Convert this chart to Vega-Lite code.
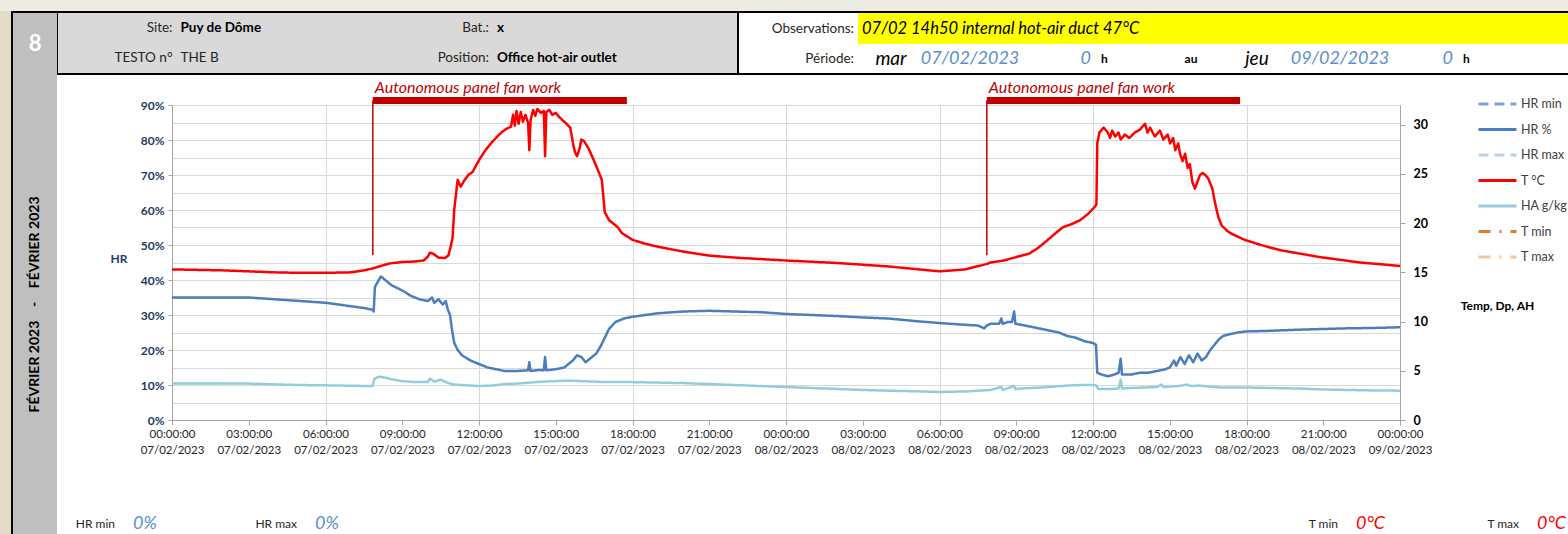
{
"$schema":"https://vega.github.io/schema/vega-lite/v6.json",
"padding":0,"background":"white","spacing":0,"bounds":"full",
"config":{"font":"Lato","view":{"stroke":null},"concat":{"spacing":0},"text":{"font":"Lato"}},
"datasets":{
"fan":[{"start":7.85,"end":17.78,"label":"Autonomous panel fan work"},{"start":31.85,"end":41.75,"label":"Autonomous panel fan work"}],
"series":[
{"h":0,"s":"T °C","v":15.3},{"h":1,"s":"T °C","v":15.25},{"h":2,"s":"T °C","v":15.2},{"h":3,"s":"T °C","v":15.1},{"h":4,"s":"T °C","v":15.0},{"h":5,"s":"T °C","v":14.95},{"h":6,"s":"T °C","v":14.95},{"h":7,"s":"T °C","v":15.0},{"h":7.5,"s":"T °C","v":15.2},{"h":7.85,"s":"T °C","v":15.4},{"h":8.167,"s":"T °C","v":15.65},{"h":8.5,"s":"T °C","v":15.9},{"h":9,"s":"T °C","v":16.05},{"h":9.5,"s":"T °C","v":16.1},{"h":9.833,"s":"T °C","v":16.2},{"h":10,"s":"T °C","v":16.6},{"h":10.083,"s":"T °C","v":17.0},{"h":10.2,"s":"T °C","v":16.9},{"h":10.417,"s":"T °C","v":16.5},{"h":10.667,"s":"T °C","v":16.45},{"h":10.8,"s":"T °C","v":16.7},{"h":10.883,"s":"T °C","v":17.5},{"h":10.967,"s":"T °C","v":18.5},{"h":11.033,"s":"T °C","v":21.4},{"h":11.167,"s":"T °C","v":24.4},{"h":11.283,"s":"T °C","v":23.7},{"h":11.417,"s":"T °C","v":24.3},{"h":11.583,"s":"T °C","v":24.9},{"h":11.75,"s":"T °C","v":25.2},{"h":12,"s":"T °C","v":26.4},{"h":12.25,"s":"T °C","v":27.4},{"h":12.5,"s":"T °C","v":28.2},{"h":12.75,"s":"T °C","v":28.9},{"h":12.917,"s":"T °C","v":29.3},{"h":13.083,"s":"T °C","v":29.6},{"h":13.25,"s":"T °C","v":29.8},{"h":13.333,"s":"T °C","v":31.0},{"h":13.4,"s":"T °C","v":29.9},{"h":13.467,"s":"T °C","v":31.4},{"h":13.55,"s":"T °C","v":30.1},{"h":13.633,"s":"T °C","v":31.3},{"h":13.717,"s":"T °C","v":30.3},{"h":13.817,"s":"T °C","v":31.0},{"h":13.917,"s":"T °C","v":30.2},{"h":13.967,"s":"T °C","v":27.4},{"h":14.017,"s":"T °C","v":30.5},{"h":14.117,"s":"T °C","v":31.5},{"h":14.2,"s":"T °C","v":30.9},{"h":14.283,"s":"T °C","v":31.6},{"h":14.417,"s":"T °C","v":31.2},{"h":14.533,"s":"T °C","v":31.4},{"h":14.583,"s":"T °C","v":26.8},{"h":14.633,"s":"T °C","v":31.3},{"h":14.75,"s":"T °C","v":31.5},{"h":14.867,"s":"T °C","v":31.0},{"h":15,"s":"T °C","v":31.2},{"h":15.133,"s":"T °C","v":30.8},{"h":15.25,"s":"T °C","v":30.5},{"h":15.417,"s":"T °C","v":30.1},{"h":15.567,"s":"T °C","v":29.7},{"h":15.667,"s":"T °C","v":28.2},{"h":15.75,"s":"T °C","v":27.2},{"h":15.833,"s":"T °C","v":26.8},{"h":15.933,"s":"T °C","v":27.6},{"h":16,"s":"T °C","v":28.5},{"h":16.117,"s":"T °C","v":28.3},{"h":16.3,"s":"T °C","v":27.5},{"h":16.5,"s":"T °C","v":26.3},{"h":16.6,"s":"T °C","v":25.7},{"h":16.8,"s":"T °C","v":24.4},{"h":16.917,"s":"T °C","v":21.1},{"h":17.083,"s":"T °C","v":20.3},{"h":17.417,"s":"T °C","v":19.6},{"h":17.583,"s":"T °C","v":19.0},{"h":18,"s":"T °C","v":18.3},{"h":18.5,"s":"T °C","v":17.9},{"h":19,"s":"T °C","v":17.6},{"h":20,"s":"T °C","v":17.1},{"h":21,"s":"T °C","v":16.7},{"h":22,"s":"T °C","v":16.5},{"h":23,"s":"T °C","v":16.35},
{"h":24,"s":"T °C","v":16.2},{"h":26,"s":"T °C","v":15.95},{"h":28,"s":"T °C","v":15.6},{"h":30,"s":"T °C","v":15.1},{"h":31,"s":"T °C","v":15.3},{"h":31.85,"s":"T °C","v":15.85},{"h":32,"s":"T °C","v":16.0},{"h":32.5,"s":"T °C","v":16.2},{"h":33,"s":"T °C","v":16.55},{"h":33.5,"s":"T °C","v":16.9},{"h":33.833,"s":"T °C","v":17.45},{"h":34.167,"s":"T °C","v":18.15},{"h":34.5,"s":"T °C","v":18.9},{"h":34.833,"s":"T °C","v":19.6},{"h":35.167,"s":"T °C","v":19.9},{"h":35.5,"s":"T °C","v":20.3},{"h":35.833,"s":"T °C","v":21.0},{"h":36.083,"s":"T °C","v":21.7},{"h":36.133,"s":"T °C","v":21.9},{"h":36.167,"s":"T °C","v":28.1},{"h":36.25,"s":"T °C","v":29.2},{"h":36.417,"s":"T °C","v":29.7},{"h":36.583,"s":"T °C","v":29.2},{"h":36.667,"s":"T °C","v":28.65},{"h":36.75,"s":"T °C","v":29.4},{"h":36.867,"s":"T °C","v":28.8},{"h":37,"s":"T °C","v":29.2},{"h":37.083,"s":"T °C","v":28.5},{"h":37.25,"s":"T °C","v":29.0},{"h":37.417,"s":"T °C","v":28.65},{"h":37.633,"s":"T °C","v":29.2},{"h":37.833,"s":"T °C","v":29.5},{"h":38.033,"s":"T °C","v":30.1},{"h":38.133,"s":"T °C","v":29.2},{"h":38.233,"s":"T °C","v":29.7},{"h":38.417,"s":"T °C","v":28.8},{"h":38.617,"s":"T °C","v":29.4},{"h":38.75,"s":"T °C","v":28.5},{"h":38.917,"s":"T °C","v":29.0},{"h":39.017,"s":"T °C","v":28.1},{"h":39.133,"s":"T °C","v":28.65},{"h":39.217,"s":"T °C","v":27.4},{"h":39.333,"s":"T °C","v":28.1},{"h":39.4,"s":"T °C","v":27.05},{"h":39.5,"s":"T °C","v":26.3},{"h":39.6,"s":"T °C","v":27.05},{"h":39.7,"s":"T °C","v":25.6},{"h":39.783,"s":"T °C","v":26.0},{"h":39.883,"s":"T °C","v":24.2},{"h":39.983,"s":"T °C","v":23.5},{"h":40.083,"s":"T °C","v":24.2},{"h":40.183,"s":"T °C","v":24.9},{"h":40.283,"s":"T °C","v":25.1},{"h":40.383,"s":"T °C","v":24.9},{"h":40.5,"s":"T °C","v":24.56},{"h":40.667,"s":"T °C","v":23.5},{"h":40.767,"s":"T °C","v":22.1},{"h":40.9,"s":"T °C","v":20.6},{"h":41.033,"s":"T °C","v":19.75},{"h":41.25,"s":"T °C","v":19.2},{"h":41.433,"s":"T °C","v":18.9},{"h":41.933,"s":"T °C","v":18.3},{"h":42.533,"s":"T °C","v":17.8},{"h":43.317,"s":"T °C","v":17.25},{"h":44.867,"s":"T °C","v":16.55},{"h":46.433,"s":"T °C","v":16.0},{"h":48,"s":"T °C","v":15.65},
{"h":0,"s":"HR %","v":0.35},{"h":1.5,"s":"HR %","v":0.35},{"h":3,"s":"HR %","v":0.35},{"h":4,"s":"HR %","v":0.345},{"h":5,"s":"HR %","v":0.34},{"h":6,"s":"HR %","v":0.335},{"h":6.5,"s":"HR %","v":0.33},{"h":7,"s":"HR %","v":0.325},{"h":7.5,"s":"HR %","v":0.32},{"h":7.833,"s":"HR %","v":0.315},{"h":7.883,"s":"HR %","v":0.31},{"h":7.933,"s":"HR %","v":0.38},{"h":8.083,"s":"HR %","v":0.4},{"h":8.167,"s":"HR %","v":0.41},{"h":8.333,"s":"HR %","v":0.4},{"h":8.583,"s":"HR %","v":0.385},{"h":9,"s":"HR %","v":0.37},{"h":9.333,"s":"HR %","v":0.355},{"h":9.667,"s":"HR %","v":0.345},{"h":10,"s":"HR %","v":0.34},{"h":10.167,"s":"HR %","v":0.35},{"h":10.25,"s":"HR %","v":0.335},{"h":10.417,"s":"HR %","v":0.345},{"h":10.583,"s":"HR %","v":0.33},{"h":10.7,"s":"HR %","v":0.34},{"h":10.783,"s":"HR %","v":0.315},{"h":10.867,"s":"HR %","v":0.3},{"h":10.95,"s":"HR %","v":0.255},{"h":11.033,"s":"HR %","v":0.22},{"h":11.167,"s":"HR %","v":0.2},{"h":11.333,"s":"HR %","v":0.185},{"h":11.667,"s":"HR %","v":0.17},{"h":12,"s":"HR %","v":0.16},{"h":12.333,"s":"HR %","v":0.15},{"h":12.667,"s":"HR %","v":0.145},{"h":13,"s":"HR %","v":0.14},{"h":13.5,"s":"HR %","v":0.14},{"h":13.917,"s":"HR %","v":0.142},{"h":13.967,"s":"HR %","v":0.165},{"h":14.017,"s":"HR %","v":0.14},{"h":14.333,"s":"HR %","v":0.143},{"h":14.533,"s":"HR %","v":0.142},{"h":14.583,"s":"HR %","v":0.18},{"h":14.633,"s":"HR %","v":0.142},{"h":15,"s":"HR %","v":0.145},{"h":15.333,"s":"HR %","v":0.15},{"h":15.667,"s":"HR %","v":0.17},{"h":15.833,"s":"HR %","v":0.185},{"h":16,"s":"HR %","v":0.18},{"h":16.167,"s":"HR %","v":0.165},{"h":16.333,"s":"HR %","v":0.175},{"h":16.583,"s":"HR %","v":0.19},{"h":16.75,"s":"HR %","v":0.21},{"h":16.917,"s":"HR %","v":0.235},{"h":17.083,"s":"HR %","v":0.26},{"h":17.333,"s":"HR %","v":0.28},{"h":17.667,"s":"HR %","v":0.29},{"h":18,"s":"HR %","v":0.295},{"h":18.5,"s":"HR %","v":0.3},{"h":19,"s":"HR %","v":0.305},{"h":20,"s":"HR %","v":0.31},{"h":21,"s":"HR %","v":0.312},{"h":22,"s":"HR %","v":0.31},{"h":23,"s":"HR %","v":0.308},
{"h":24,"s":"HR %","v":0.303},{"h":25,"s":"HR %","v":0.3},{"h":26,"s":"HR %","v":0.297},{"h":27,"s":"HR %","v":0.293},{"h":28,"s":"HR %","v":0.29},{"h":29,"s":"HR %","v":0.283},{"h":30,"s":"HR %","v":0.277},{"h":31,"s":"HR %","v":0.272},{"h":31.5,"s":"HR %","v":0.27},{"h":31.75,"s":"HR %","v":0.262},{"h":31.85,"s":"HR %","v":0.27},{"h":32,"s":"HR %","v":0.275},{"h":32.333,"s":"HR %","v":0.275},{"h":32.417,"s":"HR %","v":0.29},{"h":32.467,"s":"HR %","v":0.275},{"h":32.667,"s":"HR %","v":0.28},{"h":32.833,"s":"HR %","v":0.28},{"h":32.917,"s":"HR %","v":0.31},{"h":32.967,"s":"HR %","v":0.275},{"h":33.333,"s":"HR %","v":0.27},{"h":33.667,"s":"HR %","v":0.265},{"h":34,"s":"HR %","v":0.26},{"h":34.333,"s":"HR %","v":0.255},{"h":34.667,"s":"HR %","v":0.25},{"h":35,"s":"HR %","v":0.24},{"h":35.333,"s":"HR %","v":0.235},{"h":35.667,"s":"HR %","v":0.225},{"h":36,"s":"HR %","v":0.22},{"h":36.117,"s":"HR %","v":0.215},{"h":36.167,"s":"HR %","v":0.135},{"h":36.333,"s":"HR %","v":0.13},{"h":36.583,"s":"HR %","v":0.125},{"h":36.833,"s":"HR %","v":0.13},{"h":37,"s":"HR %","v":0.135},{"h":37.083,"s":"HR %","v":0.175},{"h":37.133,"s":"HR %","v":0.13},{"h":37.5,"s":"HR %","v":0.13},{"h":37.833,"s":"HR %","v":0.135},{"h":38.167,"s":"HR %","v":0.135},{"h":38.5,"s":"HR %","v":0.14},{"h":38.833,"s":"HR %","v":0.145},{"h":39,"s":"HR %","v":0.15},{"h":39.167,"s":"HR %","v":0.17},{"h":39.25,"s":"HR %","v":0.155},{"h":39.417,"s":"HR %","v":0.18},{"h":39.583,"s":"HR %","v":0.16},{"h":39.75,"s":"HR %","v":0.185},{"h":39.917,"s":"HR %","v":0.165},{"h":40.083,"s":"HR %","v":0.19},{"h":40.25,"s":"HR %","v":0.17},{"h":40.417,"s":"HR %","v":0.18},{"h":40.583,"s":"HR %","v":0.2},{"h":40.75,"s":"HR %","v":0.215},{"h":40.917,"s":"HR %","v":0.23},{"h":41.083,"s":"HR %","v":0.24},{"h":41.333,"s":"HR %","v":0.245},{"h":41.667,"s":"HR %","v":0.25},{"h":42,"s":"HR %","v":0.253},{"h":43,"s":"HR %","v":0.255},{"h":44,"s":"HR %","v":0.258},{"h":45,"s":"HR %","v":0.26},{"h":46,"s":"HR %","v":0.262},{"h":47,"s":"HR %","v":0.263},{"h":48,"s":"HR %","v":0.265},
{"h":0,"s":"HA g/kg","v":3.72},{"h":2,"s":"HA g/kg","v":3.72},{"h":3,"s":"HA g/kg","v":3.7},{"h":4,"s":"HA g/kg","v":3.62},{"h":5,"s":"HA g/kg","v":3.55},{"h":6,"s":"HA g/kg","v":3.52},{"h":7,"s":"HA g/kg","v":3.48},{"h":7.833,"s":"HA g/kg","v":3.45},{"h":7.917,"s":"HA g/kg","v":4.2},{"h":8.083,"s":"HA g/kg","v":4.4},{"h":8.333,"s":"HA g/kg","v":4.3},{"h":8.667,"s":"HA g/kg","v":4.1},{"h":9,"s":"HA g/kg","v":3.95},{"h":9.5,"s":"HA g/kg","v":3.85},{"h":10,"s":"HA g/kg","v":3.85},{"h":10.083,"s":"HA g/kg","v":4.2},{"h":10.25,"s":"HA g/kg","v":3.9},{"h":10.5,"s":"HA g/kg","v":4.1},{"h":10.75,"s":"HA g/kg","v":3.8},{"h":11,"s":"HA g/kg","v":3.6},{"h":11.333,"s":"HA g/kg","v":3.55},{"h":11.667,"s":"HA g/kg","v":3.5},{"h":12,"s":"HA g/kg","v":3.45},{"h":12.5,"s":"HA g/kg","v":3.5},{"h":13,"s":"HA g/kg","v":3.65},{"h":13.5,"s":"HA g/kg","v":3.7},{"h":14,"s":"HA g/kg","v":3.8},{"h":14.5,"s":"HA g/kg","v":3.9},{"h":15,"s":"HA g/kg","v":3.95},{"h":15.5,"s":"HA g/kg","v":4.0},{"h":16,"s":"HA g/kg","v":3.95},{"h":16.5,"s":"HA g/kg","v":3.9},{"h":17,"s":"HA g/kg","v":3.85},{"h":18,"s":"HA g/kg","v":3.85},{"h":19,"s":"HA g/kg","v":3.8},{"h":20,"s":"HA g/kg","v":3.75},{"h":21,"s":"HA g/kg","v":3.65},{"h":22,"s":"HA g/kg","v":3.55},{"h":23,"s":"HA g/kg","v":3.45},
{"h":24,"s":"HA g/kg","v":3.35},{"h":25,"s":"HA g/kg","v":3.25},{"h":26,"s":"HA g/kg","v":3.15},{"h":27,"s":"HA g/kg","v":3.05},{"h":28,"s":"HA g/kg","v":2.98},{"h":29,"s":"HA g/kg","v":2.92},{"h":30,"s":"HA g/kg","v":2.85},{"h":31,"s":"HA g/kg","v":2.9},{"h":32,"s":"HA g/kg","v":3.05},{"h":32.417,"s":"HA g/kg","v":3.35},{"h":32.467,"s":"HA g/kg","v":3.05},{"h":32.917,"s":"HA g/kg","v":3.45},{"h":32.967,"s":"HA g/kg","v":3.15},{"h":33.5,"s":"HA g/kg","v":3.25},{"h":34,"s":"HA g/kg","v":3.3},{"h":34.5,"s":"HA g/kg","v":3.4},{"h":35,"s":"HA g/kg","v":3.5},{"h":35.5,"s":"HA g/kg","v":3.55},{"h":36,"s":"HA g/kg","v":3.55},{"h":36.133,"s":"HA g/kg","v":3.5},{"h":36.2,"s":"HA g/kg","v":3.15},{"h":36.667,"s":"HA g/kg","v":3.15},{"h":37,"s":"HA g/kg","v":3.2},{"h":37.083,"s":"HA g/kg","v":4.1},{"h":37.133,"s":"HA g/kg","v":3.2},{"h":37.5,"s":"HA g/kg","v":3.25},{"h":38,"s":"HA g/kg","v":3.3},{"h":38.5,"s":"HA g/kg","v":3.35},{"h":38.667,"s":"HA g/kg","v":3.6},{"h":38.75,"s":"HA g/kg","v":3.35},{"h":39.333,"s":"HA g/kg","v":3.45},{"h":39.667,"s":"HA g/kg","v":3.6},{"h":39.833,"s":"HA g/kg","v":3.45},{"h":40.167,"s":"HA g/kg","v":3.5},{"h":40.5,"s":"HA g/kg","v":3.4},{"h":41,"s":"HA g/kg","v":3.3},{"h":42,"s":"HA g/kg","v":3.3},{"h":43,"s":"HA g/kg","v":3.25},{"h":44,"s":"HA g/kg","v":3.2},{"h":45,"s":"HA g/kg","v":3.1},{"h":46,"s":"HA g/kg","v":3.05},{"h":47,"s":"HA g/kg","v":3.0},{"h":48,"s":"HA g/kg","v":2.98}
]},
"vconcat":[
 {"width":1568,"height":11,"view":{"fill":"#EEEBE2"},"data":{"values":[]},"mark":"text","encoding":{}},
 {"hconcat":[
  {"width":11,"height":523,"view":{"fill":"#E1DBC8"},"data":{"values":[]},"mark":"text","encoding":{}},
  {"vconcat":[
   {"width":1557,"height":2,"view":{"fill":"black"},"data":{"values":[]},"mark":"text","encoding":{}},
   {"hconcat":[
    {"width":2,"height":521,"view":{"fill":"black"},"data":{"values":[]},"mark":"text","encoding":{}},
    {"vconcat":[
     {"width":44,"height":62,"view":{"fill":"#BFBFBF"},"data":{"values":[{"n":"8"}]},"mark":{"type":"text","fontSize":22,"fontWeight":"bold","color":"white"},"encoding":{"text":{"field":"n"}}},
     {"width":44,"height":459,"view":{"fill":"#BFBFBF"},"data":{"values":[{"m":"FÉVRIER 2023\u00a0\u00a0\u00a0\u00a0-\u00a0\u00a0\u00a0\u00a0FÉVRIER 2023"}]},"mark":{"type":"text","angle":270,"fontSize":14,"fontWeight":"bold","color":"black"},"encoding":{"text":{"field":"m"}}}
    ],"spacing":0,"bounds":"flush"},
    {"vconcat":[
     {"hconcat":[
      {"width":1,"height":60,"view":{"fill":"black"},"data":{"values":[]},"mark":"text","encoding":{}},
      {"width":237,"height":60,"view":{"fill":"#D9D9D9"},
       "data":{"values":[{"r":1,"label":"Site:","value":"Puy de Dôme"},{"r":2,"label":"TESTO n°","value":"THE B"}]},
       "encoding":{"y":{"field":"r","type":"ordinal","axis":null,"scale":{"type":"point","padding":0.5}}},
       "layer":[
        {"mark":{"type":"text","align":"right","dx":-4,"fontSize":13.5,"color":"#262626"},"encoding":{"text":{"field":"label"}}},
        {"transform":[{"filter":"datum.r == 1"}],"mark":{"type":"text","align":"left","dx":4,"fontSize":13.5,"fontWeight":"bold","color":"black"},"encoding":{"text":{"field":"value"}}},
        {"transform":[{"filter":"datum.r == 2"}],"mark":{"type":"text","align":"left","dx":4,"fontSize":13.5,"color":"#262626"},"encoding":{"text":{"field":"value"}}}
       ]},
      {"width":396,"height":60,"view":{"fill":"#D9D9D9"},
       "data":{"values":[{"r":1,"label":"Bat.:","value":"x"},{"r":2,"label":"Position:","value":"Office hot-air outlet"}]},
       "encoding":{"y":{"field":"r","type":"ordinal","axis":null,"scale":{"type":"point","padding":0.5}}},
       "layer":[
        {"mark":{"type":"text","align":"right","dx":-4,"fontSize":13.5,"color":"#262626"},"encoding":{"text":{"field":"label"}}},
        {"mark":{"type":"text","align":"left","dx":4,"fontSize":13.5,"fontWeight":"bold","color":"black"},"encoding":{"text":{"field":"value"}}}
       ]},
      {"width":46,"height":60,"view":{"fill":"#D9D9D9"},"data":{"values":[]},"mark":"text","encoding":{}},
      {"width":2,"height":60,"view":{"fill":"black"},"data":{"values":[]},"mark":"text","encoding":{}},
      {"vconcat":[
       {"hconcat":[
        {"width":119,"height":31,"data":{"values":[{"a":"Observations:"}]},"mark":{"type":"text","x":"width","align":"right","dx":-4,"fontSize":13.5,"color":"#262626"},"encoding":{"text":{"field":"a"}}},
        {"width":710,"height":31,"view":{"fill":"#FFFF00"},"data":{"values":[{"a":"07/02 14h50 internal hot-air duct 47°C"}]},"mark":{"type":"text","align":"left","dx":4,"fontSize":16.5,"fontStyle":"italic","color":"black"},"encoding":{"text":{"field":"a"},"x":{"datum":"obs","type":"nominal","axis":null,"scale":{"type":"point","padding":0,"align":0}}}}
       ],"spacing":0,"bounds":"flush"},
       {"hconcat":[
        {"width":119,"height":29,"data":{"values":[{"a":"Période:"}]},"mark":{"type":"text","x":"width","align":"right","dx":-4,"fontSize":13.5,"color":"#262626"},"encoding":{"text":{"field":"a"}}},
        {"width":66,"height":29,"data":{"values":[{"a":"mar"}]},"mark":{"type":"text","fontSize":19,"fontStyle":"italic","color":"black"},"encoding":{"text":{"field":"a"}}},
        {"width":92,"height":29,"data":{"values":[{"a":"07/02/2023"}]},"mark":{"type":"text","fontSize":18,"fontStyle":"italic","color":"#5B8ED0"},"encoding":{"text":{"field":"a"}}},
        {"width":160,"height":29,"data":{"values":[{"a":"0","b":"h"}]},"layer":[
          {"mark":{"type":"text","align":"right","dx":-5,"fontSize":18,"fontStyle":"italic","color":"#5B8ED0"},"encoding":{"text":{"field":"a"}}},
          {"mark":{"type":"text","align":"left","dx":5,"fontSize":12,"fontWeight":"bold","color":"black"},"encoding":{"text":{"field":"b"}}}]},
        {"width":30,"height":29,"data":{"values":[{"a":"au"}]},"mark":{"type":"text","fontSize":12,"fontWeight":"bold","color":"black"},"encoding":{"text":{"field":"a"}}},
        {"width":102,"height":29,"data":{"values":[{"a":"jeu"}]},"mark":{"type":"text","fontSize":19,"fontStyle":"italic","color":"black"},"encoding":{"text":{"field":"a"}}},
        {"width":64,"height":29,"data":{"values":[{"a":"09/02/2023"}]},"mark":{"type":"text","fontSize":18,"fontStyle":"italic","color":"#5B8ED0"},"encoding":{"text":{"field":"a"}}},
        {"width":172,"height":29,"data":{"values":[{"a":"0","b":"h"}]},"layer":[
          {"mark":{"type":"text","align":"right","dx":-5,"fontSize":18,"fontStyle":"italic","color":"#5B8ED0"},"encoding":{"text":{"field":"a"}}},
          {"mark":{"type":"text","align":"left","dx":5,"fontSize":12,"fontWeight":"bold","color":"black"},"encoding":{"text":{"field":"b"}}}]},
        {"width":24,"height":29,"data":{"values":[]},"mark":"text","encoding":{}}
       ],"spacing":0,"bounds":"flush"}
      ],"spacing":0,"bounds":"full"}
     ],"spacing":0,"bounds":"full"},
     {"width":1511,"height":2,"view":{"fill":"black"},"data":{"values":[]},"mark":"text","encoding":{}},
     {"hconcat":[
      {"width":53,"height":439,"data":{"values":[]},"mark":"text","encoding":{}},
      {"vconcat":[
       {"width":1228,"height":30,"data":{"values":[]},"mark":"text","encoding":{}},
       {"width":1228,"height":315,
        "layer":[
         {"layer":[
           {"data":{"name":"series"},"transform":[{"filter":"datum.s == 'HR %'"}],
            "mark":{"type":"line","strokeWidth":2.5,"strokeJoin":"round"},
            "encoding":{
             "x":{"field":"h","type":"quantitative","title":null,"scale":{"domain":[0,48],"nice":false,"zero":false},
                  "axis":{"values":[0,3,6,9,12,15,18,21,24,27,30,33,36,39,42,45,48],"tickCount":40,"labelExpr":"[(datum.value % 24 < 10 ? '0' : '') + (datum.value % 24) + ':00:00', '0' + (7 + floor(datum.value / 24)) + '/02/2023']","labelFontSize":11.5,"labelColor":"#262626","labelPadding":3,"labelLineHeight":16,"labelFlush":false,"labelOverlap":false,"tickSize":5,"tickColor":"#A6A6A6","domainColor":"#A6A6A6","grid":true,"gridColor":"#D9D9D9","gridOpacity":{"condition":{"test":"datum.value % 6 != 0","value":0},"value":1}}},
             "y":{"field":"v","type":"quantitative","title":"HR","scale":{"domain":[0,0.9]},
                  "axis":{"orient":"left","values":[0,0.05,0.1,0.15,0.2,0.25,0.3,0.35,0.4,0.45,0.5,0.55,0.6,0.65,0.7,0.75,0.8,0.85,0.9],"tickCount":40,"labelExpr":"round(datum.value*100) % 10 == 0 ? format(datum.value, '.0%') : ''","labelColor":"#1F3864","labelFontWeight":"bold","labelFontSize":12,"labelPadding":4,"labelOverlap":false,"tickSize":4,"tickColor":"#A6A6A6","tickOpacity":{"condition":{"test":"round(datum.value*100) % 10 != 0","value":0},"value":1},"domainColor":"#A6A6A6","grid":true,"gridColor":"#D9D9D9","titleAngle":0,"titleX":-62,"titleY":153,"titleAlign":"left","titleBaseline":"middle","titleColor":"#1F3864","titleFontSize":12,"titleFontWeight":"bold"}},
             "color":{"field":"s","type":"nominal","title":null,
                  "scale":{"domain":["HR min","HR %","HR max","T °C","HA g/kg","T min","T max"],"range":["#7EA6DA","#4A7EBF","#BBD0EA","#FF0000","#93CDDD","#E8772E","#FBC49C"]},
                  "legend":{"orient":"none","legendX":1477,"legendY":96,"direction":"vertical","symbolType":"stroke","symbolSize":1444,"symbolStrokeWidth":3,"clipHeight":16,"rowPadding":9.5,"labelFontSize":12.5,"labelColor":"#404040","labelOffset":3,"padding":0,"labelLimit":200}},
             "strokeDash":{"field":"s","type":"nominal","title":null,
                  "scale":{"domain":["HR min","HR %","HR max","T °C","HA g/kg","T min","T max"],"range":[[10,6],[1,0],[10,6],[1,0],[1,0],[12,9,2,9],[12,9,2,9]]},
                  "legend":{"orient":"none","legendX":1477,"legendY":96,"direction":"vertical","symbolType":"stroke","symbolSize":1444,"symbolStrokeWidth":3,"clipHeight":16,"rowPadding":9.5,"labelFontSize":12.5,"labelColor":"#404040","labelOffset":3,"padding":0,"labelLimit":200}}
            }},
           {"data":{"name":"fan"},"mark":{"type":"rule","strokeWidth":7,"color":"#C00000","strokeCap":"butt"},
            "encoding":{"x":{"field":"start","type":"quantitative","title":null},"x2":{"field":"end"},"y":{"datum":0.913,"type":"quantitative"}}},
           {"data":{"name":"fan"},"mark":{"type":"rule","strokeWidth":1.5,"color":"#C00000"},
            "encoding":{"x":{"field":"start","type":"quantitative","title":null},"y":{"datum":0.471,"type":"quantitative"},"y2":{"datum":0.913}}},
           {"data":{"name":"fan"},"mark":{"type":"text","align":"left","baseline":"middle","dx":2,"fontSize":16,"fontStyle":"italic","color":"#C00000"},
            "encoding":{"x":{"field":"start","type":"quantitative","title":null},"y":{"datum":0.949,"type":"quantitative"},"text":{"field":"label"}}}
         ]},
         {"data":{"name":"series"},"transform":[{"filter":"datum.s != 'HR %'"}],
          "mark":{"type":"line","strokeWidth":2.5,"strokeJoin":"round"},
          "encoding":{
           "x":{"field":"h","type":"quantitative","title":null},
           "y":{"field":"v","type":"quantitative","title":"Temp, Dp, AH","scale":{"domain":[0,32]},
                "axis":{"orient":"right","values":[0,5,10,15,20,25,30],"tickCount":40,"labelFontWeight":"bold","labelColor":"black","labelFontSize":12.5,"labelPadding":8,"tickSize":5,"tickColor":"#A6A6A6","domainColor":"#A6A6A6","grid":false,"titleAngle":0,"titleX":97,"titleY":200,"titleAlign":"center","titleBaseline":"middle","titleFontSize":12,"titleFontWeight":"bold","titleColor":"black"}},
           "color":{"field":"s","type":"nominal","title":null},
           "strokeDash":{"field":"s","type":"nominal","title":null}
          }}
        ],
        "resolve":{"scale":{"y":"independent"}}},
       {"width":1228,"height":94,"data":{"values":[]},"mark":"text","encoding":{}}
      ],"spacing":0,"bounds":"flush"}
     ],"spacing":0,"bounds":"full"},
     {"hconcat":[
      {"width":134,"height":20,"data":{"values":[{"a":"HR min","b":"0%"}]},"layer":[
        {"mark":{"type":"text","align":"right","dx":-9,"fontSize":12,"color":"#262626"},"encoding":{"text":{"field":"a"}}},
        {"mark":{"type":"text","align":"left","dx":9,"fontSize":18,"fontStyle":"italic","color":"#5B8ED0"},"encoding":{"text":{"field":"b"}}}]},
      {"width":230,"height":20,"data":{"values":[{"a":"HR max","b":"0%"}]},"layer":[
        {"mark":{"type":"text","align":"right","dx":-9,"fontSize":12,"color":"#262626"},"encoding":{"text":{"field":"a"}}},
        {"mark":{"type":"text","align":"left","dx":9,"fontSize":18,"fontStyle":"italic","color":"#5B8ED0"},"encoding":{"text":{"field":"b"}}}]},
      {"width":812,"height":20,"data":{"values":[]},"mark":"text","encoding":{}},
      {"width":228,"height":20,"data":{"values":[{"a":"T min","b":"0°C"}]},"layer":[
        {"mark":{"type":"text","align":"right","dx":-9,"fontSize":12,"color":"#262626"},"encoding":{"text":{"field":"a"}}},
        {"mark":{"type":"text","align":"left","dx":9,"fontSize":18,"fontStyle":"italic","color":"#FF0000"},"encoding":{"text":{"field":"b"}}}]},
      {"width":27,"height":20,"data":{"values":[]},"mark":"text","encoding":{}},
      {"width":80,"height":20,"data":{"values":[{"a":"T max","b":"0°C"}]},"layer":[
        {"mark":{"type":"text","align":"right","dx":-9,"fontSize":12,"color":"#262626"},"encoding":{"text":{"field":"a"}}},
        {"mark":{"type":"text","align":"left","dx":9,"fontSize":18,"fontStyle":"italic","color":"#FF0000"},"encoding":{"text":{"field":"b"}}}]}
     ],"spacing":0,"bounds":"flush"}
    ],"spacing":0,"bounds":"full"}
   ],"spacing":0,"bounds":"full"}
  ],"spacing":0,"bounds":"full"}
 ],"spacing":0,"bounds":"full"}
]
}
